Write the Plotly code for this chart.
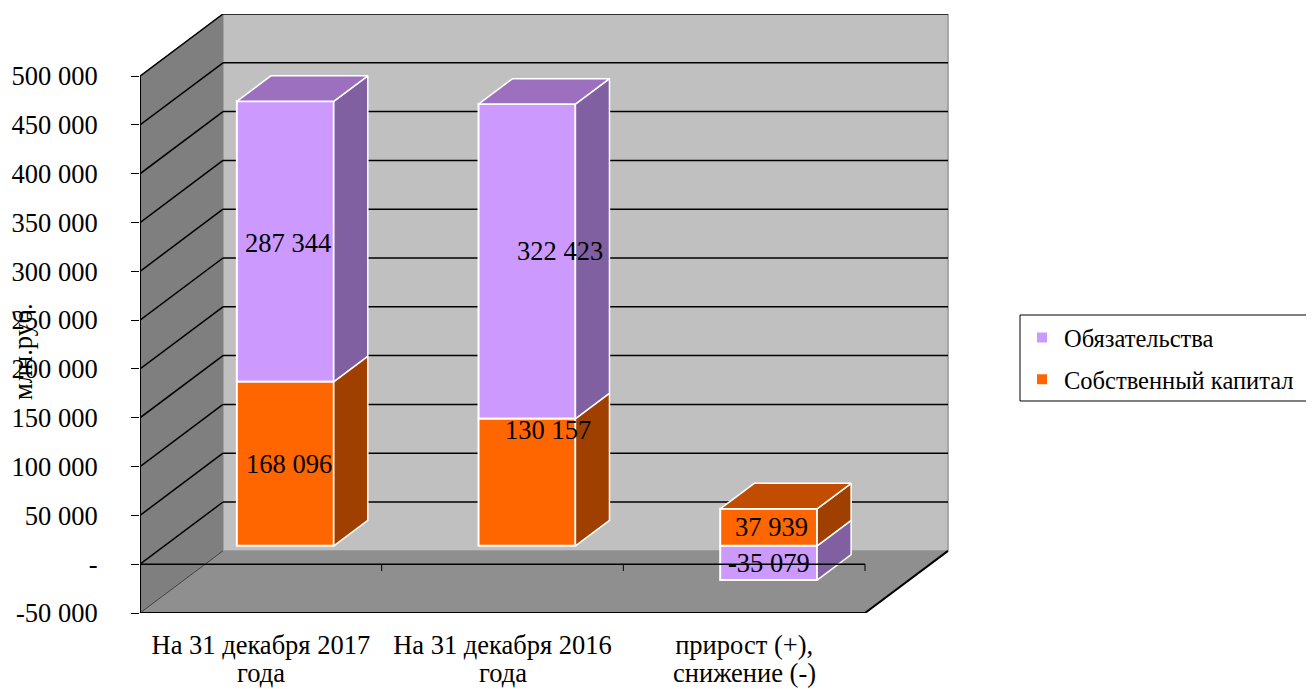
import plotly.graph_objects as go

category_line1 = ["На 31 декабря 2017", "На 31 декабря 2016", "прирост (+),"]
category_line2 = ["года", "года", "снижение (-)"]
liabilities = [287344, 322423, -35079]
equity = [168096, 130157, 37939]
liab_labels = ["287 344", "322 423", "-35 079"]
equity_labels = ["168 096", "130 157", "37 939"]
y_ticks = [-50000, 0, 50000, 100000, 150000, 200000, 250000, 300000, 350000, 400000, 450000, 500000]
y_tick_labels = ["-50 000", "-", "50 000", "100 000", "150 000", "200 000", "250 000", "300 000",
                 "350 000", "400 000", "450 000", "500 000"]

# Geometry of the oblique 3D projection, in data units
YMIN, YMAX_VISIBLE = -50000, 500000
DX, DY = 0.3434, 63700          # full chart depth
D0, D1 = 0.295, 0.705           # bar depth start / end as fraction of full depth
BAR_W = 0.401
XMIN, XMAX = -0.5, 2.5
YTOP = YMAX_VISIBLE + DY
FONT = "Liberation Serif"
FS = 26.5

PURPLE, PURPLE_SIDE, PURPLE_TOP = "#CC99FF", "#8060A0", "#9C70BE"
ORANGE, ORANGE_SIDE, ORANGE_TOP = "#FF6600", "#A04000", "#C04D00"


def path(pts):
    return "M " + " L ".join(f"{x} {y}" for x, y in pts) + " Z"


shapes = []


def poly(pts, fill, line=None, w=1, layer="below"):
    shapes.append(dict(type="path", path=path(pts), xref="x", yref="y", layer=layer, fillcolor=fill,
                       line=dict(color=line or fill, width=w)))


def seg(x0, y0, x1, y1, w=1.5, color="black", layer="below"):
    shapes.append(dict(type="line", x0=x0, y0=y0, x1=x1, y1=y1, xref="x", yref="y", layer=layer,
                       line=dict(color=color, width=w)))


# walls and floor
poly([(XMIN + DX, YMIN + DY), (XMAX + DX, YMIN + DY), (XMAX + DX, YMAX_VISIBLE + DY), (XMIN + DX, YMAX_VISIBLE + DY)], "#C0C0C0")
poly([(XMIN, YMIN), (XMIN + DX, YMIN + DY), (XMIN + DX, YMAX_VISIBLE + DY), (XMIN, YMAX_VISIBLE)], "#7F7F7F")
poly([(XMIN, YMIN), (XMAX, YMIN), (XMAX + DX, YMIN + DY), (XMIN + DX, YMIN + DY)], "#8F8F8F")
seg(XMAX + DX, YMIN + DY, XMAX + DX, YTOP, 1.5, "#9A9A9A")
for v in y_ticks[1:]:
    seg(XMIN, v, XMIN + DX, v + DY)
    seg(XMIN + DX, v + DY, XMAX + DX, v + DY)
seg(XMIN, YMIN, XMIN + DX, YMIN + DY, 1, "#404040")
seg(XMIN, YMIN, XMAX, YMIN, 2)
seg(XMAX, YMIN, XMAX + DX, YMIN + DY, 2)
seg(XMIN, YMIN, XMIN, YMAX_VISIBLE, 2)
# zero plane line with category ticks, over the bars
seg(XMIN, 0, XMAX, 0, 1.5, layer="above")
for k in range(1, len(category_line1) + 1):
    seg(XMIN + k, 0, XMIN + k, -7000, 1, layer="above")

# legend frame runs off the right edge of the page, as in the source
shapes.append(dict(type="rect", xref="paper", yref="paper", x0=880 / 810, x1=1180 / 810,
                   y0=(613 - 315) / 599, y1=(613 - 401) / 599, line=dict(color="black", width=1),
                   fillcolor="white", layer="below"))

sx0, sy0 = D0 * DX, D0 * DY
sd_x, sd_y = (D1 - D0) * DX, (D1 - D0) * DY

xs = [i + sx0 for i in range(len(category_line1))]
fig = go.Figure()

equity_base = [sy0] * len(equity)
liab_base = [sy0 + (e if l > 0 else 0) for e, l in zip(equity, liabilities)]

fig.add_trace(go.Bar(x=xs, y=liabilities, base=liab_base, width=BAR_W, name="Обязательства", legendgroup="a",
                     marker=dict(color=PURPLE, line=dict(color="white", width=2))))
fig.add_trace(go.Bar(x=xs, y=equity, base=equity_base, width=BAR_W, name="Собственный капитал", legendgroup="b",
                     marker=dict(color=ORANGE, line=dict(color="white", width=2))))


def face(pts, color):
    fig.add_trace(go.Scatter(x=[p[0] for p in pts] + [pts[0][0]], y=[p[1] for p in pts] + [pts[0][1]],
                             mode="lines", fill="toself", fillcolor=color, hoverinfo="skip", showlegend=False,
                             line=dict(color="white", width=1.5)))


def side(x, y0, y1, color):
    r = x + BAR_W / 2
    face([(r, y0), (r + sd_x, y0 + sd_y), (r + sd_x, y1 + sd_y), (r, y1)], color)


def top(x, y, color):
    l, r = x - BAR_W / 2, x + BAR_W / 2
    face([(l, y), (r, y), (r + sd_x, y + sd_y), (l + sd_x, y + sd_y)], color)


for x, e, l, eb, lb in zip(xs, equity, liabilities, equity_base, liab_base):
    side(x, lb, lb + l, PURPLE_SIDE)
    side(x, eb, eb + e, ORANGE_SIDE)
    if l > 0:
        top(x, lb + l, PURPLE_TOP)
    else:
        top(x, eb + e, ORANGE_TOP)

# data labels anchored on segment centres; nudges in pixels as in the source
liab_nudge = [(3, -1), (33, 10), (0, 0)]
equity_nudge = [(4, 0), (21, 52), (3, 0)]
ann = []
for x, v, b, t, n in list(zip(xs, liabilities, liab_base, liab_labels, liab_nudge)) + \
        list(zip(xs, equity, equity_base, equity_labels, equity_nudge)):
    ann.append(dict(x=x, y=b + v / 2, xref="x", yref="y", text=t, showarrow=False, xshift=n[0], yshift=n[1],
                    font=dict(family=FONT, size=FS, color="black")))
# second line of each category label, set tighter than a <br> tick label would be
for i, t in enumerate(category_line2):
    ann.append(dict(x=i, y=YMIN, xref="x", yref="y", text=t, showarrow=False, xanchor="center", yanchor="middle",
                    yshift=-60, font=dict(family=FONT, size=FS, color="black")))
ann.append(dict(x=-117 / 810, y=(613 - 352) / 599, xref="paper", yref="paper", text="млн.руб.", textangle=-90,
                xanchor="center", yanchor="middle", showarrow=False, font=dict(family=FONT, size=FS, color="black")))
fig.update_layout(
    # the page body has an 8px margin, so the figure is 8px smaller and starts at (8, 8)
    width=1306, height=681, autosize=False,
    margin=dict(l=132, r=364, t=6, b=76, autoexpand=False, pad=0),
    paper_bgcolor="white", plot_bgcolor="white",
    barmode="overlay", shapes=shapes, annotations=ann,
    font=dict(family=FONT, size=FS, color="black"),
    xaxis=dict(range=[XMIN, XMIN + 810 / 241.67], tickmode="array", tickvals=list(range(len(category_line1))),
               ticktext=category_line1, showgrid=False, zeroline=False, showline=False, ticks="",
               ticklabelstandoff=13, tickangle=0, tickfont=dict(family=FONT, size=FS, color="black")),
    yaxis=dict(range=[YMIN, YTOP], tickmode="array", tickvals=y_ticks, ticktext=y_tick_labels, showgrid=False,
               zeroline=False, showline=False, ticks="outside", ticklen=8, tickcolor="black", tickwidth=1,
               ticklabelstandoff=28, tickfont=dict(family=FONT, size=FS, color="black")),
    legend=dict(x=880 / 810, y=298 / 599, xanchor="left", yanchor="top", borderwidth=0,
                bgcolor="rgba(0,0,0,0)", traceorder="grouped", tracegroupgap=7,
                itemwidth=34, font=dict(family=FONT, size=24.5, color="black")),
    showlegend=True,
)
fig.write_html("out.html")
